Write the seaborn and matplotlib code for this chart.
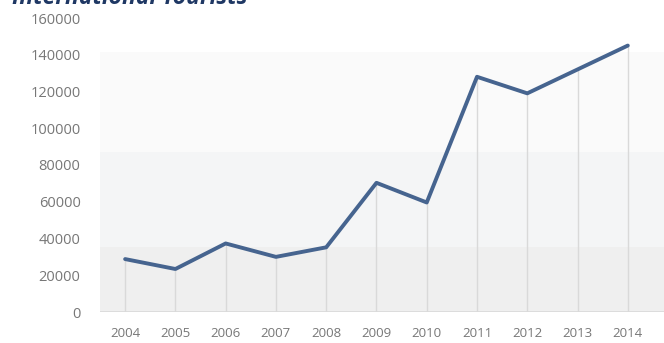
import matplotlib
matplotlib.use("Agg")
import matplotlib.pyplot as plt
import seaborn as sns
import pandas as pd

years = [2004, 2005, 2006, 2007, 2008, 2009, 2010, 2011, 2012, 2013, 2014]
tourists = [28800, 23400, 37300, 30000, 35200, 70300, 59600, 128000, 119000, 132000, 145000]
yticks = [0, 20000, 40000, 60000, 80000, 100000, 120000, 140000, 160000]
title = "International Tourists"

df = pd.DataFrame({"year": years, "tourists": tourists})

sns.set_style("white")
plt.rcParams['font.family'] = ['Open Sans', 'DejaVu Sans']

fig = plt.figure(figsize=(6.64, 3.43), dpi=100)
ax = fig.add_axes([100/664, 1 - 312/343, 1 - 100/664, (312 - 18)/343])

# background bands
ax.axhspan(0, 35400, color="#efefef", zorder=0, lw=0)
ax.axhspan(35400, 87200, color="#f4f5f6", zorder=0, lw=0)
ax.axhspan(87200, 141700, color="#fafafa", zorder=0, lw=0)

# drop lines
ax.vlines(df["year"], 0, df["tourists"], color="#d9d9d9", lw=1, zorder=1)
ax.axhline(0, color="#d9d9d9", lw=1.2, zorder=1)

sns.lineplot(data=df, x="year", y="tourists", ax=ax, color="#46648f", lw=2.8, zorder=3)

ax.set_xlim(2003.5, 2014.72)
ax.set_ylim(0, 160000)
ax.set_xticks(years)
ax.set_xticklabels([str(y) for y in years])
ax.set_yticks(yticks)
ax.set_yticklabels([str(v) for v in yticks])
ax.tick_params(axis="y", length=0, pad=14, labelsize=10.5, labelcolor="#777777")
ax.tick_params(axis="x", length=0, pad=11, labelsize=9.5, labelcolor="#777777")
ax.set_xlabel("")
ax.set_ylabel("")
for s in ax.spines.values():
    s.set_visible(False)

fig.text(12/664, 1 - 4/343, title, fontsize=16.5, fontweight="bold", fontstyle="italic",
         color="#1f3864", ha="left", va="baseline")

fig.savefig("out.png", dpi=100)
